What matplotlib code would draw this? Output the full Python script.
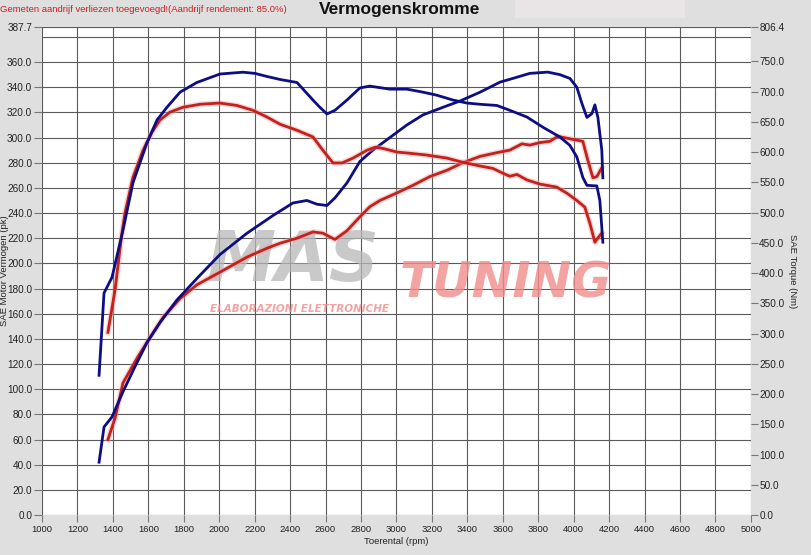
import matplotlib.pyplot as plt
from matplotlib.patches import Rectangle

plt.rcParams['font.family'] = ['Liberation Sans', 'DejaVu Sans']

# tuned (blue) torque, Nm
blue_t_rpm = [1322, 1350, 1395, 1457, 1513, 1592, 1649, 1705, 1779, 1874, 2004, 2134, 2202, 2269,
              2343, 2439, 2529, 2568, 2608, 2653, 2721, 2794, 2850, 2963, 3059, 3150, 3228, 3319,
              3398, 3471, 3567, 3640, 3736, 3827, 3922, 3979, 4018, 4052, 4075, 4131, 4148, 4165]
blue_t_nm = [231, 367, 393, 471, 549, 615, 653, 674, 699, 715, 729, 732, 730, 725,
             720, 715, 686, 674, 663, 669, 686, 706, 709, 704, 704, 699, 694, 686,
             681, 679, 677, 669, 658, 641, 625, 611, 592, 558, 545, 544, 520, 451]

# tuned (blue) power, pk
blue_p_rpm = [1322, 1350, 1395, 1457, 1525, 1592, 1666, 1762, 1874, 2004, 2157, 2303, 2416, 2495,
              2552, 2608, 2653, 2721, 2794, 2867, 2963, 3059, 3150, 3262, 3358, 3471, 3584, 3657,
              3753, 3855, 3922, 3979, 4018, 4047, 4075, 4103, 4120, 4137, 4159, 4165]
blue_p_pk = [42, 70, 78, 98, 118, 137, 153, 171, 188, 207, 224, 238, 248, 250,
             247, 246, 252, 264, 281, 290, 300, 310, 318, 324, 329, 336, 344, 347,
             351, 352, 350, 347, 340, 327, 316, 319, 326, 316, 290, 268]

# stock (red) torque, Nm
red_t_rpm = [1372, 1412, 1451, 1468, 1513, 1570, 1621, 1666, 1722, 1795, 1891, 2004, 2100, 2190,
             2269, 2343, 2439, 2529, 2585, 2642, 2693, 2755, 2834, 2879, 2924, 3003, 3076, 3172,
             3285, 3375, 3471, 3544, 3601, 3640, 3680, 3736, 3810, 3905, 3962, 4018, 4063, 4092,
             4120, 4137, 4159]
red_t_nm = [302, 372, 466, 499, 558, 603, 633, 653, 666, 674, 679, 681, 677, 669,
            658, 646, 636, 625, 603, 582, 582, 590, 603, 608, 606, 600, 598, 595,
            590, 583, 577, 573, 565, 560, 563, 554, 547, 542, 532, 520, 509, 482,
            451, 458, 466]

# stock (red) power, pk
red_p_rpm = [1372, 1412, 1457, 1542, 1609, 1683, 1779, 1874, 2004, 2157, 2269, 2343, 2439, 2529,
             2585, 2653, 2721, 2794, 2850, 2907, 3003, 3093, 3189, 3285, 3375, 3471, 3567, 3640,
             3708, 3753, 3810, 3866, 3911, 3979, 4052, 4080, 4109, 4131, 4159]
red_p_pk = [60, 77, 105, 126, 141, 157, 172, 183, 193, 205, 212, 216, 220, 225,
            224, 219, 226, 237, 245, 250, 256, 262, 269, 274, 280, 285, 288, 290,
            295, 294, 296, 297, 301, 299, 297, 282, 268, 269, 276]

left_ticks = list(range(0, 361, 20)) + [387.7]
right_ticks = list(range(0, 751, 50)) + [806.4]
x_ticks = list(range(1000, 5001, 200))

blue = '#0d0d85'
red = '#c4201c'
bg = '#dfdfdf'

fig = plt.figure(figsize=(8.11, 5.55), dpi=100, facecolor=bg)
ax = fig.add_axes([0.0518, 0.072, 0.874, 0.879])
ax2 = ax.twinx()

ax.set_xlim(1000, 5000)
ax.set_ylim(0, 387.7)
ax2.set_ylim(0, 806.4)

ax.set_xticks(x_ticks)
ax.set_xticklabels([str(v) for v in x_ticks])
ax.set_yticks(left_ticks)
ax.set_yticklabels([f'{v:.1f}' for v in left_ticks])
ax.set_yticks([380], minor=True)
ax2.set_yticks(right_ticks)
ax2.set_yticklabels([f'{v:.1f}' for v in right_ticks])

ax.set_axisbelow(True)
ax.grid(True, which='both', color='#5a5a5a', lw=0.8)
for a in (ax, ax2):
    for s in a.spines.values():
        s.set_visible(False)
ax.tick_params(axis='y', which='major', length=6, width=0.8, color='#777777',
               labelsize=7.2, pad=1, labelcolor='#222222')
ax.tick_params(axis='y', which='minor', length=0)
ax.tick_params(axis='x', length=5, width=0.8, color='#777777',
               labelsize=6.8, pad=2, labelcolor='#222222')
ax2.tick_params(axis='y', length=5, width=0.8, color='#777777',
                labelsize=7.2, pad=1, labelcolor='#222222')

# watermark
ax.text(0.232, 0.52, 'MAS', transform=ax.transAxes, fontsize=50, fontstyle='italic',
        fontweight='heavy', family='DejaVu Sans', color='#b8b8b8', alpha=0.75,
        ha='left', va='center', zorder=1.5)
ax.text(0.505, 0.475, 'TUNING', transform=ax.transAxes, fontsize=35, fontstyle='italic',
        fontweight='heavy', family='DejaVu Sans', color='#f28c8c', alpha=0.8,
        ha='left', va='center', zorder=1.5)
ax.text(0.237, 0.423, 'ELABORAZIONI ELETTRONICHE', transform=ax.transAxes, fontsize=7.5,
        fontstyle='italic', fontweight='bold', family='DejaVu Sans', color='#f28c8c',
        alpha=0.8, ha='left', va='center', zorder=1.5)

# curves
ax.plot(red_p_rpm, red_p_pk, color='#f2a0a0', lw=4, alpha=0.45, zorder=2.5)
ax.plot(red_p_rpm, red_p_pk, color=red, lw=2, zorder=3)
ax.plot(blue_p_rpm, blue_p_pk, color=blue, lw=2, zorder=3)
ax2.plot(red_t_rpm, red_t_nm, color='#f2a0a0', lw=4, alpha=0.45, zorder=2.5)
ax2.plot(red_t_rpm, red_t_nm, color=red, lw=2, zorder=3)
ax2.plot(blue_t_rpm, blue_t_nm, color=blue, lw=2, zorder=3)

# texts
fig.text(0.493, 0.982, 'Vermogenskromme', ha='center', va='center', fontsize=12.5,
         fontweight='bold', color='#111111')
fig.text(0.0, 0.982, 'Gemeten aandrijf verliezen toegevoegd!(Aandrijf rendement: 85.0%)',
         ha='left', va='center', fontsize=6.8, color='#cc2020')
fig.patches.append(Rectangle((0.635, 0.968), 0.21, 0.032, transform=fig.transFigure,
                             facecolor='#e9e5e7', edgecolor='none', zorder=0))
fig.text(0.488, 0.025, 'Toerental (rpm)', ha='center', va='center', fontsize=6.8, color='#222222')
fig.text(0.006, 0.512, 'SAE Motor Vermogen (pk)', ha='center', va='center', rotation=90,
         fontsize=6.8, color='#222222')
fig.text(0.977, 0.512, 'SAE Torque (Nm)', ha='center', va='center', rotation=270,
         fontsize=6.8, color='#222222')

fig.savefig('out.png', dpi=100, facecolor=bg)
